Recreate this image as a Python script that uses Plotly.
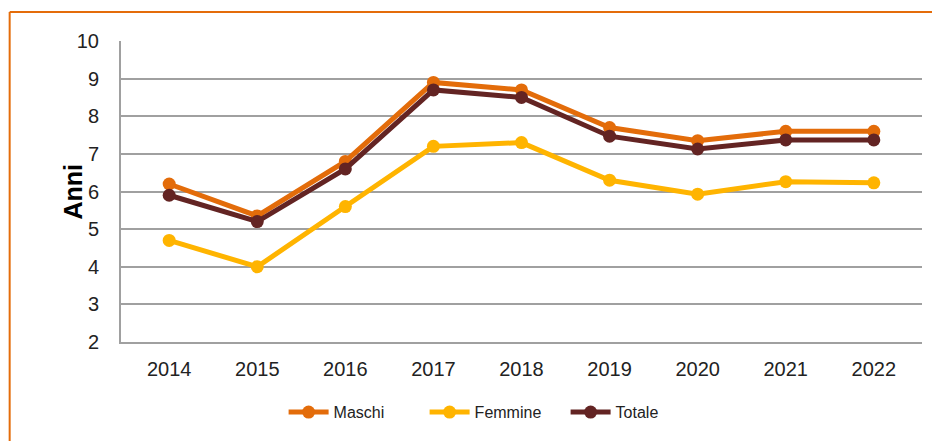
import plotly.graph_objects as go

years = ["2014", "2015", "2016", "2017", "2018", "2019", "2020", "2021", "2022"]
maschi = [6.2, 5.35, 6.8, 8.9, 8.7, 7.7, 7.35, 7.6, 7.6]
femmine = [4.7, 4.0, 5.6, 7.2, 7.3, 6.3, 5.93, 6.26, 6.23]
totale = [5.9, 5.2, 6.6, 8.7, 8.5, 7.47, 7.13, 7.37, 7.37]

series = [("Maschi", maschi, "#E36C0A"), ("Femmine", femmine, "#FFB400"), ("Totale", totale, "#632423")]

fig = go.Figure()
for name, vals, col in series:
    fig.add_trace(go.Scatter(x=years, y=vals, name=name, mode="lines+markers",
                             line=dict(color=col, width=5),
                             marker=dict(color=col, size=13)))

border = dict(color="#E46C0A", width=2)
fig.update_layout(
    width=940, height=441,
    margin=dict(l=113, r=26, t=33, b=107),
    paper_bgcolor="white", plot_bgcolor="white",
    font=dict(family="Liberation Sans, Arial", size=20, color="#222222"),
    showlegend=True,
    legend=dict(orientation="h", x=0.203, xanchor="left", y=-0.233, yanchor="middle",
                font=dict(size=16, color="#222222"), itemwidth=40, tracegroupgap=0,
                entrywidth=86),
    xaxis=dict(type="category", showgrid=False, showline=True, linecolor="#A0A0A0", linewidth=2,
               ticks="", ticklabelstandoff=8, fixedrange=True),
    yaxis=dict(range=[2, 10], dtick=1, showgrid=True, gridcolor="#A0A0A0", gridwidth=2,
               showline=True, linecolor="#A0A0A0", linewidth=2, zeroline=False,
               ticks="", ticklabelstandoff=16, fixedrange=True),
    annotations=[dict(text="<b>Anni</b>", textangle=-90, x=-0.081, y=0.5, xref="paper", yref="paper",
                      showarrow=False, font=dict(size=25, color="#000000"))],
    shapes=[
        dict(type="line", xref="paper", yref="paper", x0=-0.139, x1=1.2, y0=1.0963, y1=1.0963, line=border),
        dict(type="line", xref="paper", yref="paper", x0=-0.139, x1=-0.139, y0=-0.5, y1=1.0963, line=border),
    ],
)

fig.write_html("out.html")
